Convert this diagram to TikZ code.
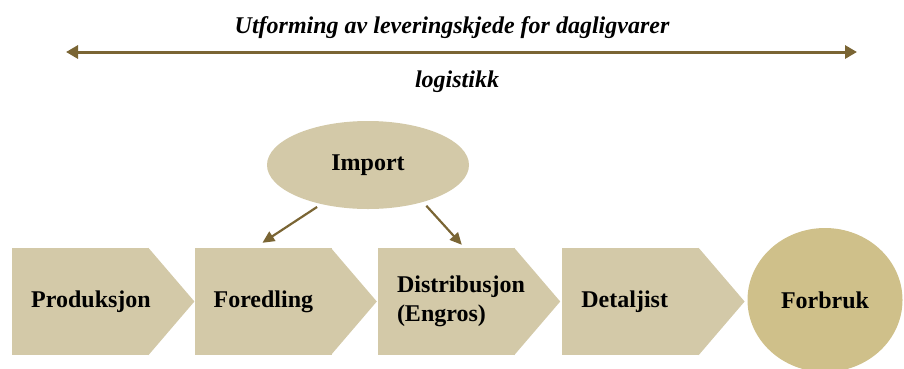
\documentclass[tikz,border=0pt]{standalone}
\usepackage{fontspec}
\setmainfont{Liberation Serif}
\usetikzlibrary{shapes, arrows.meta, positioning, calc, backgrounds}

\definecolor{stagefill}{RGB}{211,201,168}
\definecolor{usefill}{RGB}{207,192,138}
\definecolor{arrowbrown}{RGB}{122,101,52}

\begin{document}
\begin{tikzpicture}[x=1pt, y=-1pt, node distance=45pt,
    >={Triangle[length=12pt,width=11pt]},
    bigtext/.style={font=\fontsize{24}{28.5}\selectfont\bfseries},
    stage/.style={bigtext, rectangle, fill=stagefill, minimum width=137pt, minimum height=107pt,
        text width=99pt, inner xsep=19pt, align=left},
    blob/.style={bigtext, ellipse, fill=stagefill, inner sep=0pt},
    heading/.style={font=\fontsize{24}{28.5}\selectfont\bfseries\itshape}]
    \path[use as bounding box, clip] (0,0) rectangle (904,368);

    \coordinate (lleft) at (66,52);
    \coordinate (lright) at (857,52);
    \draw[<->, arrowbrown, line width=3pt, >={Triangle[length=12pt,width=13pt]}] (lleft) -- (lright);
    \node[heading] (title) at (452,28) {Utforming av leveringskjede for dagligvarer};
    \node[heading] (logistikk) at (457,82) {logistikk};

    \node[blob, minimum width=202pt, minimum height=88pt] (import) at (368,165) {Import};

    \node[stage, anchor=west] (prod) at (12,301.5) {Produksjon};
    \node[stage, right=45pt of prod] (fored) {Foredling};
    \node[stage, right=46pt of fored] (dist) {Distribusjon\\(Engros)};
    \node[stage, right=47pt of dist] (detal) {Detaljist};
    \begin{pgfonlayer}{background}
        \foreach \n in {prod, fored, dist, detal}
            \fill[stagefill] ($(\n.north east)+(-1,0)$) -- ($(\n.east)+(45,0)$) -- ($(\n.south east)+(-1,0)$) -- cycle;
    \end{pgfonlayer}

    \node[blob, fill=usefill, minimum width=155pt, minimum height=144pt] (forbruk) at (825,300) {Forbruk};

    \draw[->, arrowbrown, line width=2.2pt, shorten <=5pt] (import.220) -- ($(fored.north west)+(68,-5)$);
    \draw[->, arrowbrown, line width=2.2pt, shorten <=5pt] (import.326) -- ($(dist.north west)+(84,-3)$);
\end{tikzpicture}
\end{document}
